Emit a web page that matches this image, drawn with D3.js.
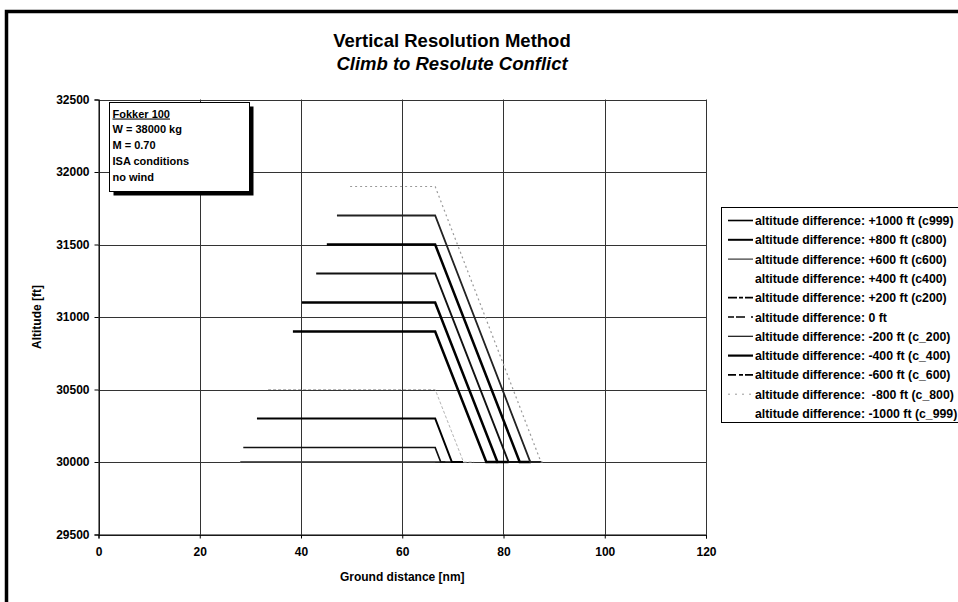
<!DOCTYPE html>
<html>
<head>
<meta charset="utf-8">
<script src="https://cdn.jsdelivr.net/npm/d3@7"></script>
<style>
  html, body { margin: 0; padding: 0; background: #fff; }
  svg { display: block; font-family: "Liberation Sans", Arial, Helvetica, sans-serif; }
  text { white-space: pre; }
</style>
</head>
<body>
<svg id="chart" width="958" height="602"></svg>
<script>
// ---------------- data ----------------
const titleText = "Vertical Resolution Method";
const subtitleText = "Climb to Resolute Conflict";
const xTitle = "Ground distance [nm]";
const yTitle = "Altitude [ft]";
const xTicks = [0, 20, 40, 60, 80, 100, 120];
const yTicks = [29500, 30000, 30500, 31000, 31500, 32000, 32500];
const infoLines = ["Fokker 100", "W = 38000 kg", "M = 0.70", "ISA conditions", "no wind"];

const seriesNames = [
  "altitude difference: +1000 ft (c999)",
  "altitude difference: +800 ft (c800)",
  "altitude difference: +600 ft (c600)",
  "altitude difference: +400 ft (c400)",
  "altitude difference: +200 ft (c200)",
  "altitude difference: 0 ft",
  "altitude difference: -200 ft (c_200)",
  "altitude difference: -400 ft (c_400)",
  "altitude difference: -600 ft (c_600)",
  "altitude difference:  -800 ft (c_800)",
  "altitude difference: -1000 ft (c_999)"
];
// ground distance [nm] of each series' points
const seriesX = [
  [49.7, 66.5, 87.4, 88.3],
  [47.1, 66.5, 85.3, 87.5],
  [45.1, 66.5, 83.2, 85.4],
  [43.0, 66.5, 81.0, 83.2],
  [40.2, 66.5, 78.8, 81.0],
  [38.4, 66.5, 76.6, 78.8],
  [33.5, 66.5, 72.1, 74.2],
  [31.3, 66.5, 69.8, 72.0],
  [28.6, 66.5, 67.6, 69.8],
  [28.0, 68.5],
  [28.0, 66.5]
];
// altitude [ft] of each series' points
const seriesY = [
  [31900, 31900, 30000, 30000],
  [31700, 31700, 30000, 30000],
  [31500, 31500, 30000, 30000],
  [31300, 31300, 30000, 30000],
  [31100, 31100, 30000, 30000],
  [30900, 30900, 30000, 30000],
  [30500, 30500, 30000, 30000],
  [30300, 30300, 30000, 30000],
  [30100, 30100, 30000, 30000],
  [30000, 30000],
  [30000, 30000]
];
// line styles as they appear in the plot (scanned print)
const seriesStroke = ["#9a9a9a", "#222", "#000", "#111", "#000", "#000", "#b4b4b4", "#000", "#111", "#222", "#eeeeee"];
const seriesWidth  = [1.2, 1.8, 2.5, 1.9, 2.5, 2.5, 1.0, 2.0, 1.7, 1.3, 1.0];
const seriesDash   = ["2,3", null, null, null, null, null, "3,2", null, null, null, null];
// legend key styles as they appear in the printed legend
const keyStroke = ["#000", "#000", "#222", "#ffffff", "#000", "#000", "#111", "#000", "#000", "#9a9a9a", "#ffffff"];
const keyWidth  = [1.6, 2.0, 1.1, 1.0, 1.8, 1.6, 1.2, 2.2, 1.6, 1.0, 1.0];
const keyDash   = [null, null, null, null, "9,2,4,2", "6,2,9", null, null, "8,3,4,2", "2,5", null];

// ---------------- layout ----------------
const svg = d3.select("#chart");
const plot = { left: 98.5, right: 706, top: 99.5, bottom: 534.5 };

const x = d3.scaleLinear().domain([0, 120]).range([plot.left, plot.right]);
const y = d3.scaleLinear().domain([29500, 32500]).range([plot.bottom, plot.top]);

// outer frame (partially visible)
svg.append("path")
  .attr("d", "M6.5,620 L6.5,11.5 L970,11.5")
  .attr("fill", "none").attr("stroke", "#000").attr("stroke-width", 3.5);

// titles
svg.append("text").attr("x", 452).attr("y", 47).attr("text-anchor", "middle")
  .attr("font-size", 18.5).attr("font-weight", "bold").text(titleText);
svg.append("text").attr("x", 452).attr("y", 70).attr("text-anchor", "middle")
  .attr("font-size", 18.5).attr("font-weight", "bold").attr("font-style", "italic").text(subtitleText);

// gridlines
const grid = svg.append("g");
grid.selectAll("line.h").data(yTicks).join("line")
  .attr("x1", plot.left).attr("x2", plot.right)
  .attr("y1", d => Math.round(y(d)) + 0.5).attr("y2", d => Math.round(y(d)) + 0.5)
  .attr("stroke", "#333").attr("stroke-width", 1);
grid.selectAll("line.v").data(xTicks).join("line")
  .attr("y1", plot.top).attr("y2", plot.bottom)
  .attr("x1", d => Math.round(x(d)) + 0.5).attr("x2", d => Math.round(x(d)) + 0.5)
  .attr("stroke", "#333").attr("stroke-width", 1);

// axes
const yAxis = svg.append("g").attr("transform", `translate(${plot.left},0)`)
  .call(d3.axisLeft(y).tickValues(yTicks).tickSize(4).tickPadding(5).tickFormat(d3.format("d")));
const xAxis = svg.append("g").attr("transform", `translate(0,${plot.bottom})`)
  .call(d3.axisBottom(x).tickValues(xTicks).tickSize(4).tickPadding(9).tickFormat(d3.format("d")));
[xAxis, yAxis].forEach(a => {
  a.select(".domain").attr("stroke", "#000");
  a.selectAll(".tick line").attr("stroke", "#000");
  a.selectAll("text").attr("font-size", 12).attr("font-weight", "bold")
    .attr("font-family", "'Liberation Sans', Arial, sans-serif").attr("fill", "#000");
});

// axis titles
svg.append("text").attr("x", (plot.left + plot.right) / 2).attr("y", 581)
  .attr("text-anchor", "middle").attr("font-size", 12).attr("font-weight", "bold").text(xTitle);
svg.append("text").attr("transform", `translate(41,${(plot.top + plot.bottom) / 2}) rotate(-90)`)
  .attr("text-anchor", "middle").attr("font-size", 12).attr("font-weight", "bold").text(yTitle);

// series lines (later series underneath)
const line = d3.line().x(d => x(d[0])).y(d => y(d[1]));
const order = d3.range(seriesNames.length).reverse();
svg.append("g").selectAll("path").data(order).join("path")
  .attr("d", i => line(seriesX[i].map((v, k) => [v, seriesY[i][k]])))
  .attr("fill", "none")
  .attr("stroke", i => seriesStroke[i])
  .attr("stroke-width", i => seriesWidth[i])
  .attr("stroke-dasharray", i => seriesDash[i])
  .attr("stroke-linejoin", "miter");

// info box with shadow
const box = { x: 109.5, y: 102.5, w: 140, h: 89 };
svg.append("rect").attr("x", box.x + 4).attr("y", box.y + 4).attr("width", box.w).attr("height", box.h).attr("fill", "#000");
svg.append("rect").attr("x", box.x).attr("y", box.y).attr("width", box.w).attr("height", box.h)
  .attr("fill", "#fff").attr("stroke", "#000").attr("stroke-width", 1);
const info = svg.append("g");
info.selectAll("text").data(infoLines).join("text")
  .attr("x", box.x + 3).attr("y", (d, i) => box.y + 15 + i * 15.8)
  .attr("font-size", 11).attr("font-weight", "bold")
  .attr("text-decoration", (d, i) => i === 0 ? "underline" : null)
  .text(d => d);

// legend
const leg = { x: 721.5, y: 207.5, rowH: 19.3 };
svg.append("rect").attr("x", leg.x).attr("y", leg.y).attr("width", 260).attr("height", 215)
  .attr("fill", "#fff").attr("stroke", "#000").attr("stroke-width", 1);
const rows = svg.append("g").selectAll("g").data(seriesNames).join("g")
  .attr("transform", (d, i) => `translate(0,${leg.y + 13 + i * leg.rowH})`);
rows.append("line").attr("x1", 728).attr("x2", 753).attr("y1", 0).attr("y2", 0)
  .attr("stroke", (d, i) => keyStroke[i])
  .attr("stroke-width", (d, i) => keyWidth[i])
  .attr("stroke-dasharray", (d, i) => keyDash[i]);
rows.append("text").attr("x", 755).attr("y", 4.5)
  .attr("font-size", 12.3).attr("font-weight", "bold").text(d => d);
</script>
</body>
</html>
